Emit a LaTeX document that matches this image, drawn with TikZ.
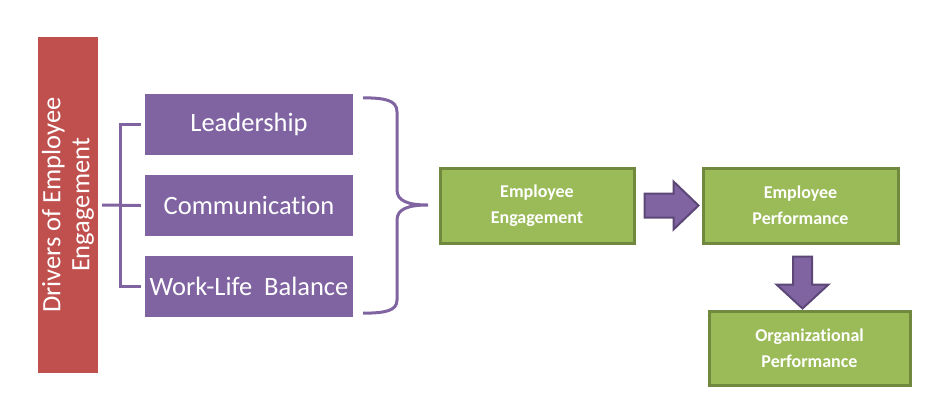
\documentclass[tikz,border=0pt]{standalone}
\usepackage{fontspec}
\setmainfont[Ligatures=NoCommon]{Carlito}
\usetikzlibrary{calc}
\definecolor{drvred}{HTML}{C0504D}
\definecolor{vio}{HTML}{8064A2}
\definecolor{viodark}{HTML}{5C4776}
\definecolor{grn}{HTML}{9BBB59}
\definecolor{grndark}{HTML}{71893F}
\tikzset{
  redbar/.style={fill=drvred, draw=none, minimum width=60pt, minimum height=336pt, inner sep=0pt},
  pbox/.style={fill=vio, draw=none, minimum width=208pt, minimum height=61pt, inner sep=0pt,
     text=white, font=\fontsize{26.5}{30}\selectfont},
  gbox/.style={fill=grn, draw=grndark, line width=3pt, minimum height=75pt, inner sep=0pt,
     text=white, align=center, font=\fontsize{18}{26}\selectfont\bfseries},
  brk/.style={draw=vio, line width=3pt},
  barrow/.style={fill=vio, draw=viodark, line width=2pt, line join=miter}
}
\begin{document}
\begin{tikzpicture}[x=1pt,y=-1pt]
\useasboundingbox (0,0) rectangle (933,408);
\node[redbar] (drv) at (68,205) {};
\node[rotate=90, text=white, align=center, font=\fontsize{26.5}{29}\selectfont] (drvtext) at (drv.center) {Drivers of Employee\\Engagement};
\node[pbox] (lead) at (249,124.5) {Leadership};
\node[pbox] (comm) at (249,205.5) {Communication};
\node[pbox] (wlb) at (249,286.5) {Work-Life\ \ Balance};
\node[gbox, minimum width=194pt] (ee) at (537,205.5) {Employee\\Engagement};
\node[gbox, minimum width=195pt] (ep) at (800.5,205.5) {Employee\\Performance};
\node[gbox, minimum width=201pt, minimum height=74pt] (op) at (809.5,348) {Organizational\\Performance};
% left bracket
\coordinate (bl) at (120,205);
\draw[brk] ([xshift=-4pt]lead.west) -| (bl) |- ([xshift=-4pt]wlb.west);
\draw[brk] ([xshift=4pt]drv.east) -- ([xshift=-4pt]comm.west);
% right brace
\coordinate (tip) at (428,205);
\draw[brk] ($(lead.north east)+(10,4)$) .. controls (385,98) and (397,100) .. (397,112)
  -- (397,190) .. controls (397,201) and (408,205) .. (tip)
  .. controls (408,205) and (397,209) .. (397,220)
  -- (397,300) .. controls (397,311) and (385,313) .. ($(wlb.south east)+(10,-4)$);
% block arrows
\draw[barrow] ($(ee.east)+(9,0)$) ++(0,-12) -- ++(29,0) -- ++(0,-12) -- ++(25,24) -- ++(-25,24) -- ++(0,-12) -- ++(-29,0) -- cycle;
\draw[barrow] ($(ep.south)+(2,12)$) ++(-9.5,0) -- ++(19,0) -- ++(0,28) -- ++(16.5,0) -- ++(-26,24) -- ++(-26,-24) -- ++(16.5,0) -- cycle;
\end{tikzpicture}
\end{document}
